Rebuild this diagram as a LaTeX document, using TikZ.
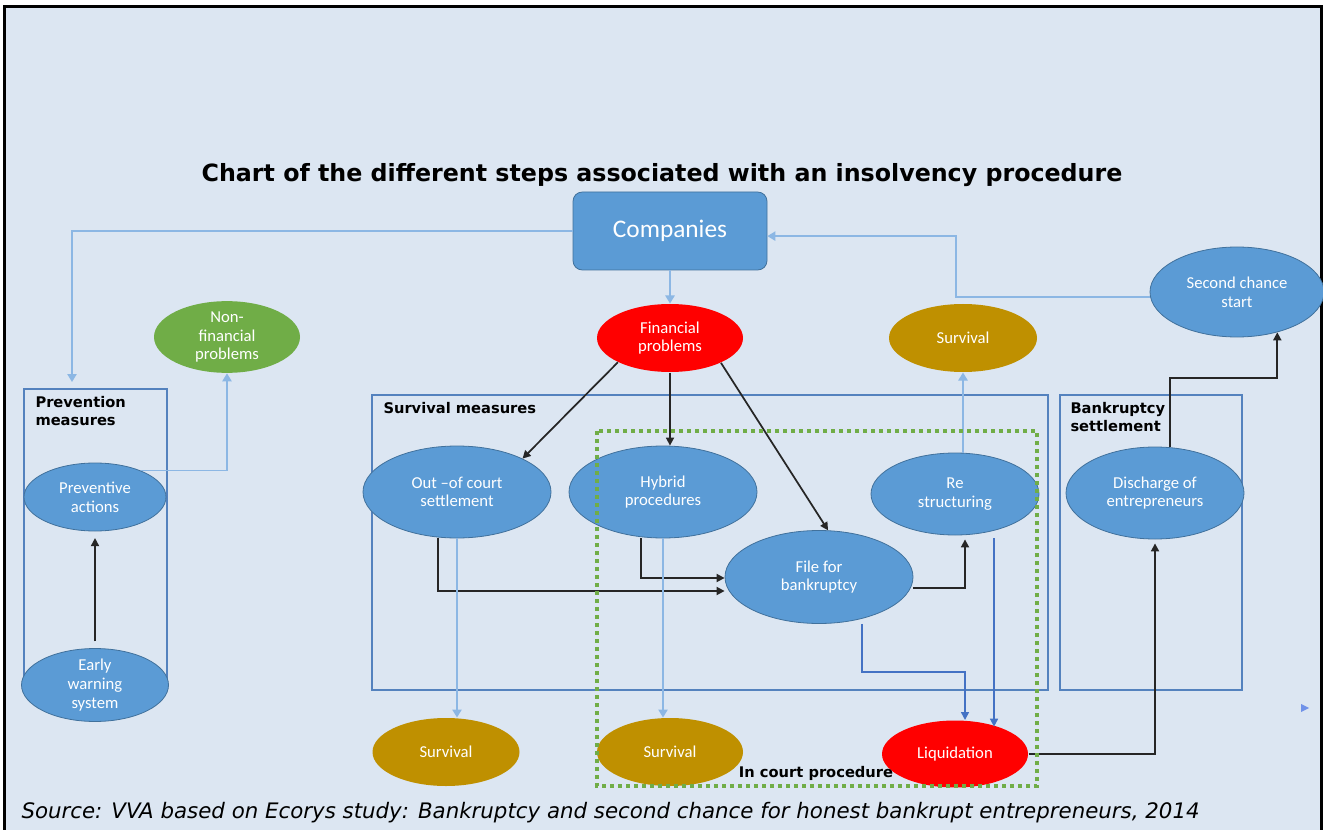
\documentclass[tikz,border=0pt]{standalone}
\usepackage{fontspec}
\setmainfont{Carlito}
\newfontfamily\verdana{DejaVu Sans}
\usetikzlibrary{shapes.geometric,arrows.meta}

\definecolor{bgblue}{RGB}{220,230,242}
\definecolor{nodeblue}{RGB}{91,155,213}
\definecolor{edgeblue}{RGB}{65,113,156}
\definecolor{lineblue}{RGB}{140,183,228}
\definecolor{darkline}{RGB}{68,114,196}
\definecolor{boxline}{RGB}{84,130,190}
\definecolor{gold}{RGB}{191,144,0}
\definecolor{leafgreen}{RGB}{112,173,71}

\tikzset{every picture/.style={line width=0.75pt},
  ovalsize/.style 2 args={minimum width=#1*0.75pt, minimum height=#2*0.75pt},
  oval/.style={ellipse, inner sep=0pt, align=center, text=white, font=\fontsize{12.5}{14}\selectfont},
  bluestep/.style={oval, draw=edgeblue, line width=0.6pt, fill=nodeblue},
  redstep/.style={oval, fill=red},
  goldstep/.style={oval, fill=gold},
  greenstep/.style={oval, fill=leafgreen},
  groupbox/.style={draw=boxline, line width=1.1pt},
  grouplabel/.style={anchor=north west, inner sep=0.75pt, align=left, font=\verdana\bfseries\fontsize{11}{13.5}\selectfont},
  blackarrow/.style={line width=1.3pt, draw=black!85, -{Triangle[length=6pt,width=6pt]}},
  bluearrow/.style={line width=1.1pt, draw=lineblue, -{Triangle[length=6pt,width=7pt]}},
  darkarrow/.style={line width=1.1pt, draw=darkline, -{Triangle[length=6pt,width=6pt]}}
}

\begin{document}
\begin{tikzpicture}[x=0.75pt,y=0.75pt,yscale=-1,xscale=1]
\useasboundingbox (0,0) rectangle (1323,830);
%Background and frame
\fill[white] (0,0) rectangle (1323,830);
\fill[bgblue] (4,7) rectangle (1321,830);
\draw[line width=2.25pt] (4,830) -- (4,7) -- (1321,7) -- (1321,830);

%Group boxes
\draw[groupbox] (24,389) rectangle (167,690);
\draw[groupbox] (372,395) rectangle (1048,690);
\draw[groupbox] (1060,395) rectangle (1242,690);

% Text Node
\node (title) at (662,175) {\verdana\bfseries\fontsize{17.8}{20}\selectfont Chart of the different steps associated with an insolvency procedure};
\node[grouplabel] (prevlabel) at (34,395) {Prevention\\measures};
\node[grouplabel] (survlabel) at (382,401) {Survival measures};
\node[grouplabel] (bklabel) at (1069,401) {Bankruptcy\\settlement};

%Shape: Rounded Rectangle
\node[draw=edgeblue, line width=0.6pt, fill=nodeblue, rounded corners=7pt, minimum width=194*0.75pt, minimum height=78*0.75pt, text=white, font=\fontsize{19}{22}\selectfont] (comp) at (670,231) {Companies};

%Shape: Ellipses
\node[redstep, ovalsize={146}{68}] (fin) at (670,338) {Financial\\problems};
\node[greenstep, ovalsize={146}{68}] (nonfin) at (227,337) {Non-\\financial\\problems};
\node[goldstep, ovalsize={148}{68}] (survtop) at (963,338) {Survival};
\node[bluestep, ovalsize={174}{90}] (second) at (1237,292) {Second chance\\start};
\node[bluestep, ovalsize={142}{68}] (prevact) at (95,497) {Preventive\\actions};
\node[bluestep, ovalsize={147}{66}] (early) at (95,685) {Early\\warning\\system};
\node[bluestep, ovalsize={188}{92}] (outcourt) at (457,492) {Out --of court\\settlement};
\node[bluestep, ovalsize={188}{92}] (hybrid) at (663,492) {Hybrid\\procedures};
\node[bluestep, ovalsize={168}{82}] (restr) at (955,494) {Re\\structuring};
\node[bluestep, ovalsize={188}{93}] (filebk) at (819,577) {File for\\bankruptcy};
\node[bluestep, ovalsize={178}{92}] (discharge) at (1155,493) {Discharge of\\entrepreneurs};
\node[goldstep, ovalsize={147}{68}] (survA) at (446,752) {Survival};
\node[goldstep, ovalsize={146}{68}] (survB) at (670,752) {Survival};
\node[redstep, ovalsize={146}{67}] (liq) at (955,754) {Liquidation};

%Bend points
\coordinate (prevtop) at (72,382);
\coordinate (ocdrop) at (438,591);
\coordinate (hydrop) at (641,578);
\coordinate (fbturn) at (965,588);
\coordinate (fbleft) at (862,672);
\coordinate (liqturn) at (965,672);
\coordinate (rsdrop) at (994,538);
\coordinate (dcturn) at (1170,378);
\coordinate (scturn) at (956,297);

%Straight Lines
\draw[bluearrow] (comp) -- (fin);
\draw[bluearrow] (comp.west) -| (prevtop);
\draw[bluearrow] (prevact.30) -| (nonfin.south);
\draw[blackarrow, shorten <=5pt, shorten >=5pt] (early) -- (prevact);
\draw[blackarrow] (fin.205) -- (outcourt.27);
\draw[blackarrow] (fin) -- (fin |- hybrid.north);
\draw[blackarrow] (fin.334) -- (filebk.79);
\draw[blackarrow] (outcourt.south -| ocdrop) -- (ocdrop) -- (ocdrop -| filebk.west);
\draw[blackarrow] (hybrid.south -| hydrop) -- (hydrop) -- (hydrop -| filebk.west);
\draw[bluearrow] (outcourt) -- (outcourt |- survA.north);
\draw[bluearrow] (hybrid) -- (hybrid |- survB.north);
\draw[blackarrow, shorten >=3pt] (filebk.east |- fbturn) -- (fbturn) -- (fbturn |- restr.south);
\draw[darkarrow] (filebk.south -| fbleft) -- (fbleft) -- (liqturn) -- (liqturn |- liq.north);
\draw[darkarrow, shorten >=-5pt] (rsdrop) -- (rsdrop |- liq.north);
\draw[bluearrow] (restr.north -| survtop) -- (survtop.south);
\draw[blackarrow, shorten >=3pt] (liq.east) -| (discharge.south);
\draw[blackarrow] (discharge.north -| dcturn) -- (dcturn) -| (second.315);
\draw[bluearrow] (second.west |- scturn) -- (scturn) |- (comp.357);
\fill[lineblue!80!blue] (1301,704) -- (1309,708) -- (1301,712) -- cycle;

%In court procedure
\draw[leafgreen, line width=3pt, dash pattern=on 3pt off 3pt] (597,431) rectangle (1037,786);
\node[inner sep=0.75pt, font=\verdana\bfseries\fontsize{11}{13}\selectfont] (courtlabel) at (816,773) {In court procedure};

% Text Node
\node[anchor=west, inner sep=0.75pt] (source) at (20,813) {\verdana\itshape\fontsize{16}{18}\selectfont Source: VVA based on Ecorys study: Bankruptcy and second chance for honest bankrupt entrepreneurs, 2014};
\end{tikzpicture}
\end{document}
